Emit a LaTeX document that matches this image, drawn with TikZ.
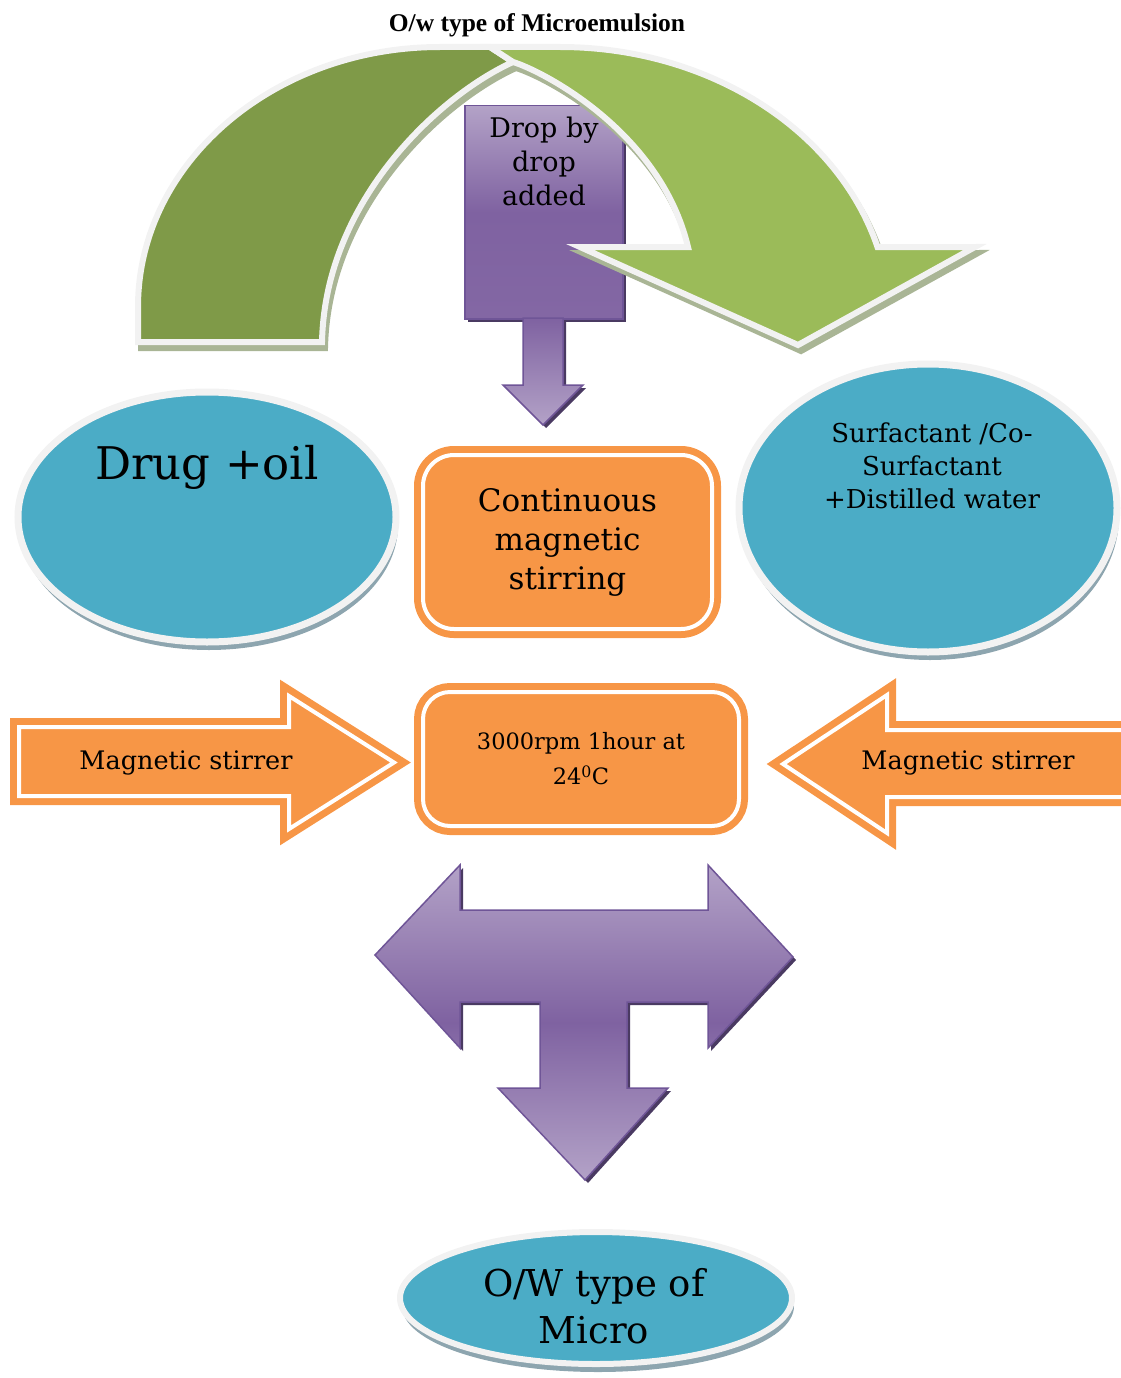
\documentclass[tikz,border=0pt]{standalone}
\usepackage{fontspec}
\setmainfont{DejaVu Serif}
\newfontfamily\timesfont{Liberation Serif}
\usetikzlibrary{shapes.geometric,shadows,positioning}

\definecolor{oilblue}{HTML}{4BACC6}
\definecolor{rimgray}{HTML}{F2F2F2}
\definecolor{blueshade}{HTML}{8DA5AF}
\definecolor{stirorange}{HTML}{F79646}
\definecolor{arcdark}{HTML}{7F9A48}
\definecolor{arclight}{HTML}{9BBB59}
\definecolor{arcshade}{HTML}{A9B595}
\definecolor{droplight}{HTML}{B3A2C7}
\definecolor{dropdark}{HTML}{7F62A1}
\definecolor{dropedge}{HTML}{6F5597}
\definecolor{dropshade}{HTML}{4A3A62}

\newcommand{\arcback}{(138,342) -- (138,307) arc[start angle=180,end angle=270,x radius=302,y radius=260]
  -- (490,47) -- (513,62) .. controls (440,95) and (325,200) .. (322,342) -- cycle}
\newcommand{\arcfront}{(490,47) -- (560,47) arc[start angle=270,end angle=344.2,x radius=330,y radius=275]
  -- (975,247) -- (798,345) -- (580,247) -- (688,247)
  .. controls (660,130) and (540,70) .. (513,62) -- cycle}

\tikzset{
  blob/.style={ellipse,fill=oilblue,draw=rimgray,line width=7pt,inner sep=0pt,
    drop shadow={shadow xshift=2pt,shadow yshift=-8pt,fill=blueshade,opacity=1}},
  stirbox/.style={rectangle,fill=stirorange,draw=stirorange,double=white,
    double distance=4pt,line width=7pt,inner sep=0pt,align=center},
  stirarrow/.style={fill=stirorange,draw=stirorange,double=white,
    double distance=4pt,line width=7pt,line join=miter},
  arcpart/.style={draw=rimgray,line width=6pt,line join=miter},
  purpleedge/.style={draw=dropedge,line width=1.5pt,
    drop shadow={shadow xshift=3pt,shadow yshift=-3pt,fill=dropshade,opacity=1}},
}

\begin{document}
\begin{tikzpicture}[x=1pt,y=-1pt]
  \useasboundingbox (0,0) rectangle (1120,1378);
  % Title
  \node[font=\timesfont\bfseries\fontsize{25.5}{30}\selectfont] (title) at (537,25) {O/w type of Microemulsion};
  % Drop box and its arrow
  \node[purpleedge,top color=droplight,bottom color=dropdark!92!droplight,middle color=dropdark,
    minimum width=158,minimum height=213,anchor=north] (dropbox) at (544,105) {};
  \node[below=12pt of dropbox.north,inner sep=0pt,align=center,font=\fontsize{27}{34}\selectfont] (droptxt) {Drop by\\drop\\added};
  \shadedraw[purpleedge,top color=dropdark,bottom color=droplight] (523,318) -- (563,318) -- (563,385)
    -- (583,385) -- (543,425) -- (503,385) -- (523,385) -- cycle;
  % Green curved arrow
  \filldraw[arcshade,line width=6pt,xshift=3pt,yshift=-6pt] \arcback;
  \filldraw[arcshade,line width=6pt,xshift=3pt,yshift=-6pt] \arcfront;
  \filldraw[arcpart,fill=arcdark] \arcback;
  \filldraw[arcpart,fill=arclight] \arcfront;
  % Ingredients
  \node[blob,minimum width=378,minimum height=250] (drug) at (207,517) {};
  \node[font=\fontsize{45}{54}\selectfont] (drugtxt) at (207,467) {Drug +oil};
  \node[blob,minimum width=378,minimum height=288] (surf) at (928,508) {};
  \node[align=center,font=\fontsize{26}{33}\selectfont] (surftxt) at (932,466) {Surfactant /Co-\\Surfactant\\+Distilled water};
  % Stirring boxes
  \node[stirbox,rounded corners=31pt,minimum width=289,minimum height=174,
    font=\fontsize{31}{39}\selectfont] (stir) at (567.5,542) {Continuous\\magnetic\\stirring};
  \node[stirbox,rounded corners=27pt,minimum width=316,minimum height=134,
    font=\fontsize{22.5}{35}\selectfont] (rpm) at (581,759) {3000rpm 1hour at\\24\textsuperscript{0}C};
  % Magnetic stirrer arrows
  \draw[stirarrow] (19,727) -- (289,727) -- (289,696) -- (394,762.5) -- (289,829) -- (289,796) -- (19,796) -- cycle;
  \node[font=\fontsize{25.5}{30}\selectfont] (leftlbl) at (186,763) {Magnetic stirrer};
  \draw[stirarrow] (1135,730) -- (887,730) -- (887,695) -- (783,764) -- (887,833) -- (887,797) -- (1135,797) -- cycle;
  \node[font=\fontsize{25.5}{30}\selectfont] (rightlbl) at (968,763) {Magnetic stirrer};
  % T arrow
  \shadedraw[purpleedge,top color=droplight,bottom color=droplight,middle color=dropdark]
    (375,955) -- (460,865) -- (460,910) -- (708,910) -- (708,865) -- (793,957) -- (708,1048)
    -- (708,1002) -- (627,1002) -- (627,1088) -- (668,1088) -- (585,1180) -- (498,1088)
    -- (540,1088) -- (540,1002) -- (460,1002) -- (460,1048) -- cycle;
  % Result
  \node[blob,line width=6pt,minimum width=392,minimum height=132] (owmicro) at (596,1298) {};
  \node[align=center,font=\fontsize{37}{47}\selectfont] (owtxt) at (594,1306) {O/W type of\\Micro};
\end{tikzpicture}
\end{document}
